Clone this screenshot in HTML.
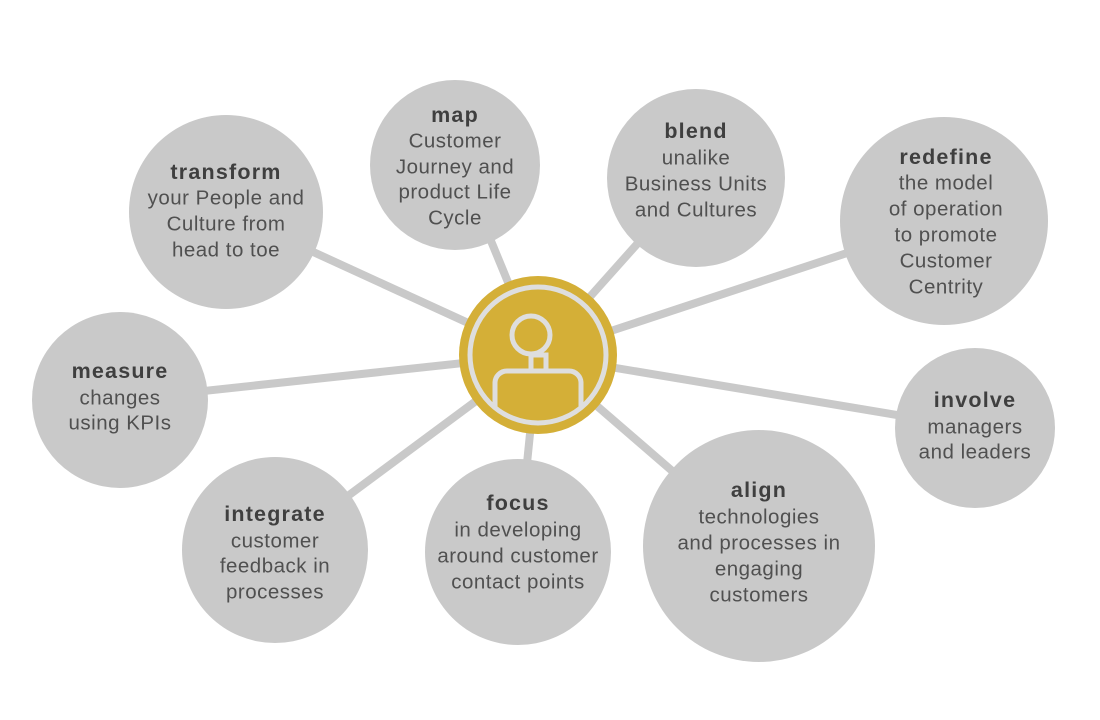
<!DOCTYPE html>
<html><head><meta charset="utf-8"><style>
html,body{margin:0;padding:0;background:#fff;}
svg{display:block;}
text{font-family:"Liberation Sans",sans-serif;font-size:20.5px;letter-spacing:0.5px;fill:#505050;text-anchor:middle;dominant-baseline:central;}
.b{font-weight:bold;fill:#3f3f3f;font-size:21.5px;letter-spacing:1.2px;}
</style></head><body>
<svg width="1100" height="720" viewBox="0 0 1100 720" xmlns="http://www.w3.org/2000/svg">
<g stroke="#c9c9c9" stroke-width="8">
<line x1="538" y1="355" x2="226" y2="212"/>
<line x1="538" y1="355" x2="470" y2="190"/>
<line x1="538" y1="355" x2="696" y2="178"/>
<line x1="538" y1="355" x2="944" y2="221"/>
<line x1="538" y1="355" x2="120" y2="400"/>
<line x1="538" y1="355" x2="975" y2="428"/>
<line x1="538" y1="355" x2="275" y2="550"/>
<line x1="538" y1="355" x2="518" y2="552"/>
<line x1="538" y1="355" x2="759" y2="546"/>
</g>
<g fill="#c9c9c9">
<circle cx="226" cy="212" r="97"/>
<circle cx="455" cy="165" r="85"/>
<circle cx="696" cy="178" r="89"/>
<circle cx="944" cy="221" r="104"/>
<circle cx="120" cy="400" r="88"/>
<circle cx="975" cy="428" r="80"/>
<circle cx="275" cy="550" r="93"/>
<circle cx="518" cy="552" r="93"/>
<circle cx="759" cy="546" r="116"/>
</g>
<circle cx="538" cy="355" r="79" fill="#d4af37"/>
<circle cx="538" cy="355" r="68" fill="none" stroke="#dedede" stroke-width="5"/>
<clipPath id="c"><circle cx="538" cy="355" r="66"/></clipPath>
<g stroke="#dedede" stroke-width="5" fill="none" clip-path="url(#c)">
<circle cx="531" cy="335" r="19"/>
<rect x="531" y="355" width="15" height="16"/>
<rect x="495" y="371" width="86" height="60" rx="12"/>
</g>
<text x="226" y="172" class="b">transform</text>
<text x="226" y="198">your People and</text>
<text x="226" y="224">Culture from</text>
<text x="226" y="250">head to toe</text>
<text x="455" y="115" class="b">map</text>
<text x="455" y="141">Customer</text>
<text x="455" y="167">Journey and</text>
<text x="455" y="192">product Life</text>
<text x="455" y="218">Cycle</text>
<text x="696" y="131" class="b">blend</text>
<text x="696" y="158">unalike</text>
<text x="696" y="184">Business Units</text>
<text x="696" y="210">and Cultures</text>
<text x="946" y="157" class="b">redefine</text>
<text x="946" y="183">the model</text>
<text x="946" y="209">of operation</text>
<text x="946" y="235">to promote</text>
<text x="946" y="261">Customer</text>
<text x="946" y="287">Centrity</text>
<text x="120" y="371" class="b">measure</text>
<text x="120" y="398">changes</text>
<text x="120" y="423">using KPIs</text>
<text x="975" y="400" class="b">involve</text>
<text x="975" y="427">managers</text>
<text x="975" y="452">and leaders</text>
<text x="275" y="514" class="b">integrate</text>
<text x="275" y="541">customer</text>
<text x="275" y="566">feedback in</text>
<text x="275" y="592">processes</text>
<text x="518" y="503" class="b">focus</text>
<text x="518" y="530">in developing</text>
<text x="518" y="556">around customer</text>
<text x="518" y="582">contact points</text>
<text x="759" y="490" class="b">align</text>
<text x="759" y="517">technologies</text>
<text x="759" y="543">and processes in</text>
<text x="759" y="569">engaging</text>
<text x="759" y="595">customers</text>
</svg>
</body></html>
